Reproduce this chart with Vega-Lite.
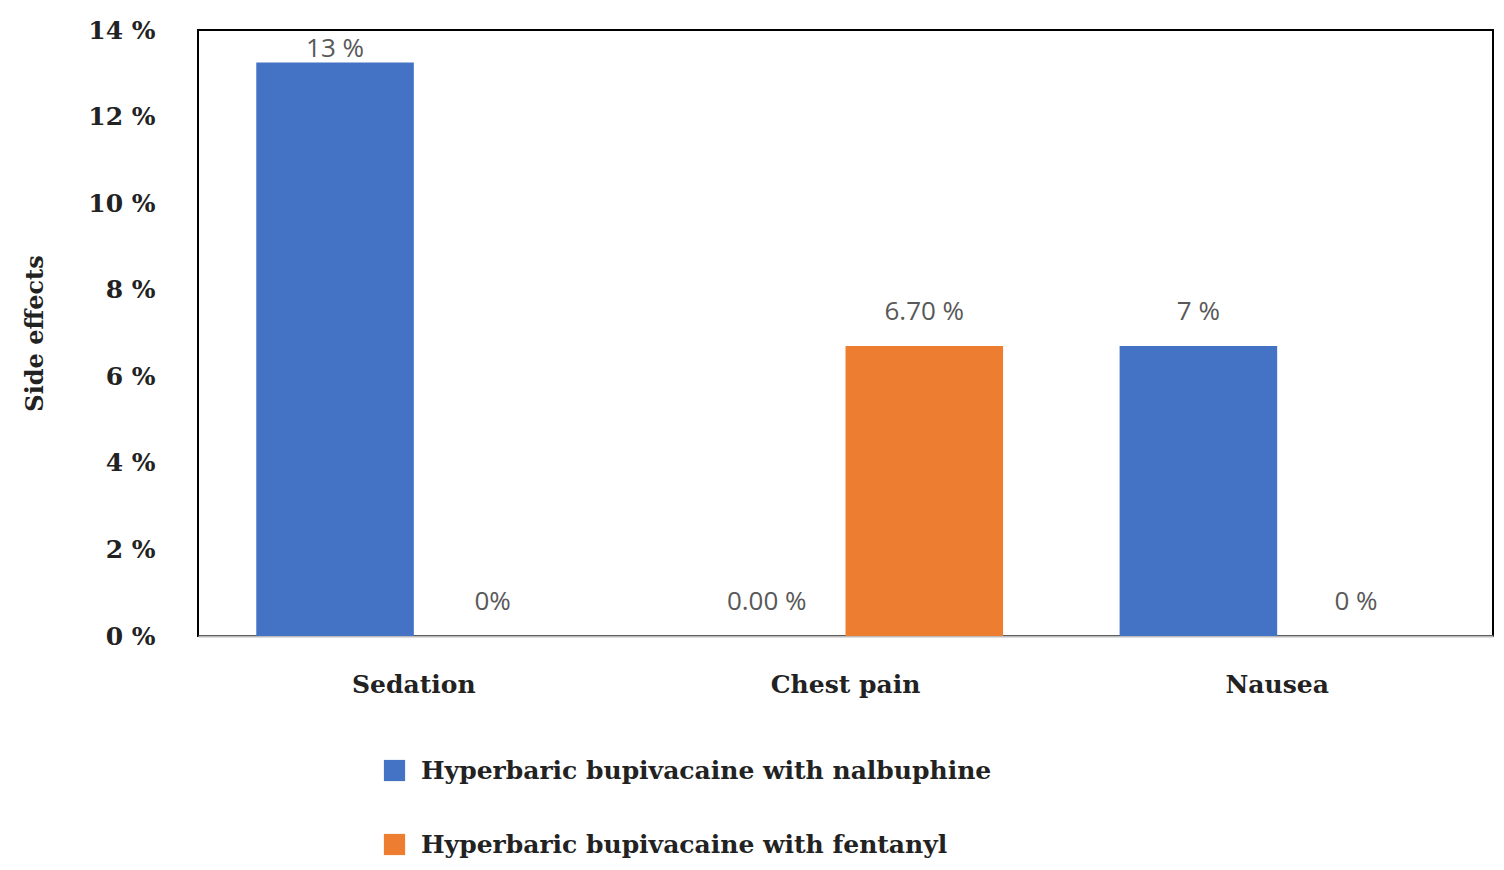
{
"$schema":"https://vega.github.io/schema/vega-lite/v6.json",
"autosize":{"type":"none"},
"width":1295,"height":606,
"padding":{"left":198,"top":30,"right":11,"bottom":234},
"background":"white",
"config":{"view":{"stroke":"black","strokeWidth":2}},
"data":{"values":[
{"cat":"Sedation","grp":"Hyperbaric bupivacaine with nalbuphine","v":13.25,"lab":"13  %"},
{"cat":"Sedation","grp":"Hyperbaric bupivacaine with fentanyl","v":0,"lab":"0%"},
{"cat":"Chest pain","grp":"Hyperbaric bupivacaine with nalbuphine","v":0,"lab":"0.00  %"},
{"cat":"Chest pain","grp":"Hyperbaric bupivacaine with fentanyl","v":6.7,"lab":"6.70  %"},
{"cat":"Nausea","grp":"Hyperbaric bupivacaine with nalbuphine","v":6.7,"lab":"7 %"},
{"cat":"Nausea","grp":"Hyperbaric bupivacaine with fentanyl","v":0,"lab":"0 %"}
]},
"transform":[{"calculate":"min(datum.v+0.78,13.55)","as":"ly"}],
"encoding":{
"x":{"field":"cat","type":"nominal","sort":["Sedation","Chest pain","Nausea"],"scale":{"paddingInner":0.27,"paddingOuter":0.135},
 "axis":{"title":null,"labelAngle":0,"labelFont":"DejaVu Serif","labelFontWeight":"bold","labelFontSize":25,"labelColor":"#222","labelPadding":36,"labelDx":-16,"ticks":false,"domainColor":"#bbb","domainWidth":2}},
"xOffset":{"field":"grp","type":"nominal","sort":["Hyperbaric bupivacaine with nalbuphine","Hyperbaric bupivacaine with fentanyl"]}
},
"layer":[
{"mark":{"type":"bar"},
 "encoding":{
  "y":{"field":"v","type":"quantitative","scale":{"domain":[0,14]},
   "axis":{"title":"Side effects","titleFont":"DejaVu Serif","titleFontSize":24,"titleFontWeight":"bold","titleColor":"#222","titlePadding":40,
    "values":[0,2,4,6,8,10,12,14],"labelExpr":"datum.value + ' %'","labelFont":"DejaVu Serif","labelFontWeight":"bold","labelFontSize":25,"labelColor":"#222","labelPadding":43,"labelDy":-7,"ticks":false,"grid":false,"domain":false}},
  "color":{"field":"grp","type":"nominal","sort":["Hyperbaric bupivacaine with nalbuphine","Hyperbaric bupivacaine with fentanyl"],
   "scale":{"range":["#4472C4","#ED7D31"]},
   "legend":{"title":null,"orient":"none","legendX":184,"legendY":728,"direction":"vertical","symbolType":"square","symbolSize":450,"labelFont":"DejaVu Serif","labelFontWeight":"bold","labelFontSize":25,"labelColor":"#222","labelLimit":1000,"rowPadding":48,"labelOffset":14,"symbolOpacity":1}}
 }},
{"mark":{"type":"text","font":"Open Sans","fontSize":26,"color":"#595959","baseline":"middle"},
 "encoding":{"y":{"field":"ly","type":"quantitative"},"text":{"field":"lab"}}}
]
}
